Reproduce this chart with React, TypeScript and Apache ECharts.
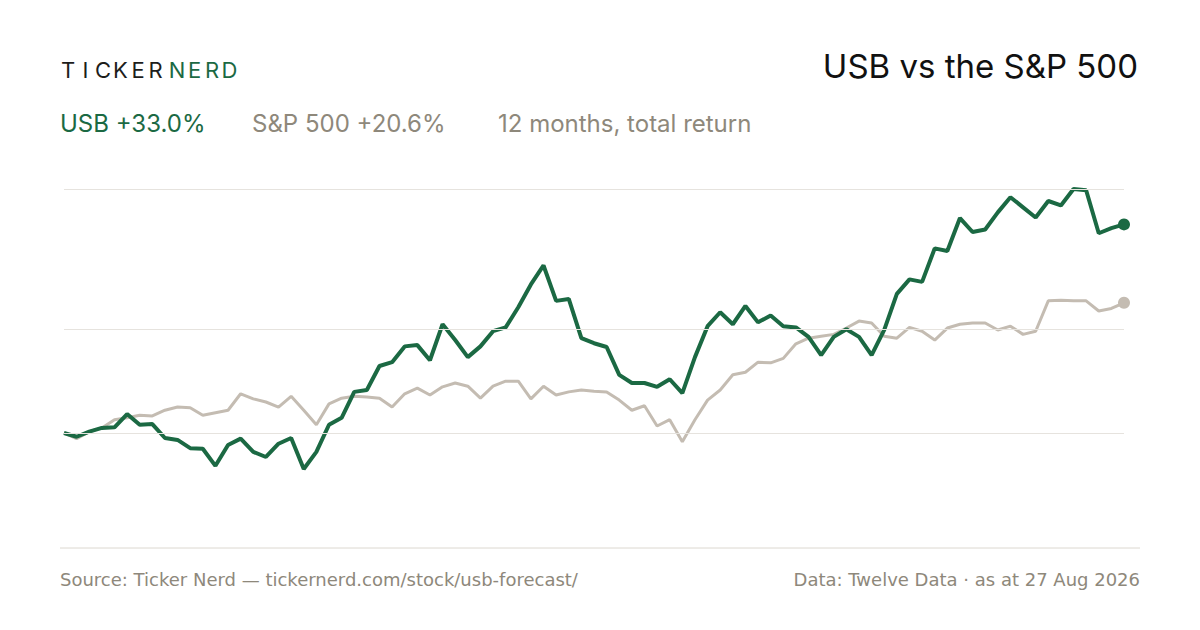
import React, { useEffect, useRef } from "react";
import * as echarts from "echarts";

// % total return, sampled left to right over 12 months
const usbReturn = [
  0, -0.6, 0.2, 0.8, 0.9, 3.0, 1.3, 1.4, -0.8, -1.1, -2.4, -2.5, -5.2, -1.9, -0.9, -3.0, -3.8, -1.7, -0.8,
  -5.7, -3.0, 1.3, 2.4, 6.5, 6.8, 10.6, 11.2, 13.7, 13.9, 11.5, 17.2, 14.7, 12.0, 13.7, 16.1, 16.7, 19.9,
  23.5, 26.5, 20.9, 21.2, 15.0, 14.2, 13.6, 9.2, 7.9, 7.9, 7.3, 8.5, 6.3, 12.0, 16.9, 19.1, 17.2, 20.1,
  17.5, 18.6, 16.9, 16.7, 15.2, 12.3, 15.2, 16.4, 15.2, 12.3, 16.3, 22.0, 24.3, 23.9, 29.2, 28.8, 34.0,
  31.8, 32.2, 34.9, 37.3, 35.7, 34.1, 36.7, 36.0, 38.6, 38.4, 31.6, 32.4, 33.0,
];
const spxReturn = [
  0, -0.9, 0.2, 0.8, 2.1, 2.4, 2.8, 2.7, 3.6, 4.1, 4.0, 2.8, 3.2, 3.6, 6.2, 5.4, 4.9, 4.1, 5.8, 3.6, 1.3,
  4.6, 5.5, 5.8, 5.7, 5.5, 4.1, 6.2, 7.1, 6.0, 7.3, 7.9, 7.4, 5.5, 7.4, 8.2, 8.2, 5.4, 7.4, 6.0, 6.5, 6.8,
  6.6, 6.5, 5.2, 3.6, 4.3, 1.1, 2.1, -1.4, 2.1, 5.2, 6.8, 9.2, 9.6, 11.2, 11.1, 11.8, 14.1, 15.0, 15.3,
  15.6, 16.6, 17.7, 17.4, 15.3, 15.0, 16.7, 16.1, 14.7, 16.6, 17.2, 17.4, 17.4, 16.3, 16.9, 15.6, 16.1,
  20.9, 21.0, 20.9, 20.9, 19.3, 19.7, 20.6,
];
const gridValues = [0, 16.4, 38.6];
const days = usbReturn.map((_, i) => String(i));

const GREEN = "#1b6943";
const GREY = "#c4bcb2";
const MUTED = "#8e887b";
const FONT = "Inter, 'Noto Sans', sans-serif";
const WIDE = "'DejaVu Sans', sans-serif";

const App: React.FC = () => {
  const chartRef = useRef<HTMLDivElement>(null);

  useEffect(() => {
    if (!chartRef.current) return;
    const chart = echarts.init(chartRef.current, null, { renderer: "svg" });
    const last = usbReturn.length - 1;

    // spaced-out logo letters, each centred in its own cell
    const logo = (word: string, x0: number, color: string) =>
      word.split("").map((ch, i) => ({
        type: "text",
        x: x0 + i * 17.5 + 8,
        y: 59,
        style: { text: ch, fill: color, font: `400 22px ${FONT}`, textAlign: "center" },
      }));

    chart.setOption({
      animation: false,
      backgroundColor: "#ffffff",
      grid: { left: 64, right: 76, top: 189, height: 359 },
      xAxis: { type: "category", data: days, boundaryGap: false, show: false },
      yAxis: { type: "value", min: -18.2, max: 38.6, show: false },
      graphic: [
        ...logo("TICKER", 60, "#1d1d1b"),
        ...logo("NERD", 169, GREEN),
        { type: "text", right: 62, top: 49, style: { text: "USB vs the S&P 500", fill: "#111", font: `400 33px ${FONT}` } },
        { type: "text", left: 60, top: 111, style: { text: "USB +33.0%", fill: GREEN, font: `400 24px ${FONT}` } },
        { type: "text", left: 252, top: 111, style: { text: "S&P 500 +20.6%", fill: MUTED, font: `400 24px ${FONT}` } },
        { type: "text", left: 498, top: 111, style: { text: "12 months, total return", fill: MUTED, font: `400 24px ${FONT}` } },
        { type: "line", shape: { x1: 60, y1: 548, x2: 1140, y2: 548 }, style: { stroke: "#dcd8d0", lineWidth: 1 } },
        { type: "text", left: 60, top: 570, style: { text: "Source: Ticker Nerd — tickernerd.com/stock/usb-forecast/", fill: MUTED, font: `400 18px ${WIDE}` } },
        { type: "text", right: 60, top: 570, style: { text: "Data: Twelve Data · as at 27 Aug 2026", fill: MUTED, font: `400 18px ${WIDE}` } },
      ],
      series: [
        {
          type: "line",
          data: spxReturn,
          symbol: "none",
          lineStyle: { color: GREY, width: 3 },
          markLine: {
            silent: true,
            symbol: "none",
            label: { show: false },
            lineStyle: { color: "#e6e3de", width: 1, type: "solid" },
            data: gridValues.map((v) => ({ yAxis: v })),
          },
          markPoint: {
            symbol: "circle",
            symbolSize: 12,
            itemStyle: { color: GREY },
            label: { show: false },
            data: [{ coord: [days[last], spxReturn[last]] }],
          },
          z: 2,
        },
        {
          type: "line",
          data: usbReturn,
          symbol: "none",
          lineStyle: { color: GREEN, width: 4 },
          markPoint: {
            symbol: "circle",
            symbolSize: 12,
            itemStyle: { color: GREEN },
            label: { show: false },
            data: [{ coord: [days[last], usbReturn[last]] }],
          },
          z: 3,
        },
      ],
    });

    return () => chart.dispose();
  }, []);

  return <div ref={chartRef} style={{ width: 1200, height: 630, margin: -8 }} />;
};

export default App;
